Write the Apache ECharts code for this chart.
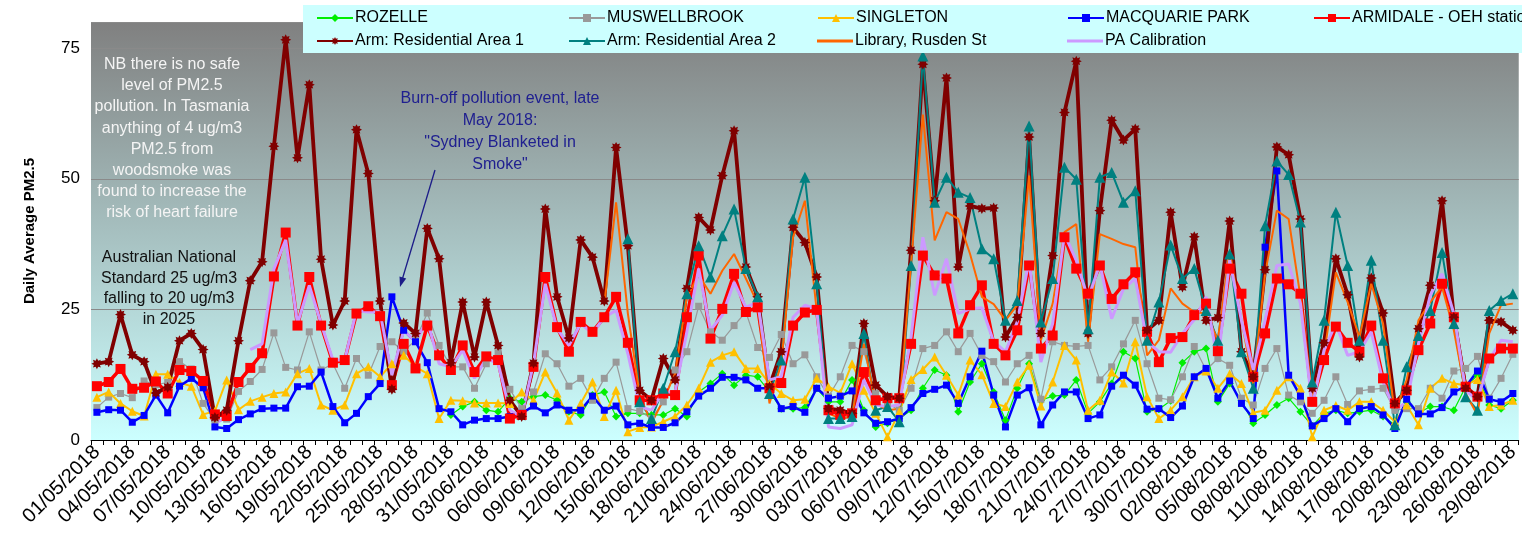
<!DOCTYPE html>
<html><head><meta charset="utf-8">
<script src="https://cdn.jsdelivr.net/npm/echarts@6/dist/echarts.min.js"></script>
<style>html,body{margin:0;padding:0;background:#fff}#c{width:1522px;height:533px}</style>
</head><body><div id="c"></div>
<script>
var categories = [
'01/05/2018','02/05/2018','03/05/2018','04/05/2018','05/05/2018','06/05/2018','07/05/2018','08/05/2018','09/05/2018','10/05/2018',
'11/05/2018','12/05/2018','13/05/2018','14/05/2018','15/05/2018','16/05/2018','17/05/2018','18/05/2018','19/05/2018','20/05/2018',
'21/05/2018','22/05/2018','23/05/2018','24/05/2018','25/05/2018','26/05/2018','27/05/2018','28/05/2018','29/05/2018','30/05/2018','31/05/2018',
'01/06/2018','02/06/2018','03/06/2018','04/06/2018','05/06/2018','06/06/2018','07/06/2018','08/06/2018','09/06/2018','10/06/2018',
'11/06/2018','12/06/2018','13/06/2018','14/06/2018','15/06/2018','16/06/2018','17/06/2018','18/06/2018','19/06/2018','20/06/2018',
'21/06/2018','22/06/2018','23/06/2018','24/06/2018','25/06/2018','26/06/2018','27/06/2018','28/06/2018','29/06/2018','30/06/2018',
'01/07/2018','02/07/2018','03/07/2018','04/07/2018','05/07/2018','06/07/2018','07/07/2018','08/07/2018','09/07/2018','10/07/2018',
'11/07/2018','12/07/2018','13/07/2018','14/07/2018','15/07/2018','16/07/2018','17/07/2018','18/07/2018','19/07/2018','20/07/2018',
'21/07/2018','22/07/2018','23/07/2018','24/07/2018','25/07/2018','26/07/2018','27/07/2018','28/07/2018','29/07/2018','30/07/2018','31/07/2018',
'01/08/2018','02/08/2018','03/08/2018','04/08/2018','05/08/2018','06/08/2018','07/08/2018','08/08/2018','09/08/2018','10/08/2018',
'11/08/2018','12/08/2018','13/08/2018','14/08/2018','15/08/2018','16/08/2018','17/08/2018','18/08/2018','19/08/2018','20/08/2018',
'21/08/2018','22/08/2018','23/08/2018','24/08/2018','25/08/2018','26/08/2018','27/08/2018','28/08/2018','29/08/2018'
];
var yTicks = [0, 25, 50, 75];
var N = null;
var rozelle = [N,N,N,N,N,N,N,N,N,N, N,N,N,N,N,N,N,N,N,N, N,N,N,N,N,N,N,N,N,N,
4.8, 6.4,7.3,5.7,5.4,8,7.3,8.3,8.6,7.6,5.4,4.8,8.6,9.2,4.5,5.1,
5.1,4.8,4.8,6,4.5,9.2,10.8,12.7,10.5,12.4,12.1,9.2,6,6,6.2,
9.9,7.3,7.3,11.5,5.7,2.5,3.2,4.1,5.7,9.9,13.4,12.4,5.4,11.1,14.6,
9.2,3.8,9.9,14.6,7.6,8.4,8.6,11.5,5.1,7.3,10.8,16.9,15.6,5.4,5.9,
7.5,14.8,16.9,17.5,7.3,10.8,7.6,3.2,4.8,6.7,8,5.4,2.7,5.1,5.7,
5.1,5.4,5.7,4.5,2.9,7.3,5.1,6.4,6.4,5.7,10.2,12.4,6.7,6,7.6];
var muswellbrook = [6.2,8.2,8.9,8.1,11.3,10.6,11,15,13.6,7,3.8,4,9.3,11.2,13.5,20.5,13.9,13.4,20.7,13.4,14.6,9.9,15.6,12.4,17.9,18.8,17,19.1,24.3,18.1,14,
14,9.9,14.6,16.7,9.7,6,9.2,16.5,14.6,10.3,11.8,7.6,11.8,14.9,6,
5.5,4.1,7.3,13.4,16.9,25.6,20.7,19.1,21.9,24.5,17.7,15.8,20.2,14.6,16.3,
12.1,8.3,12.1,18.1,16.9,8.9,7,5.7,9.9,17.5,18.1,20.7,16.9,20.4,16.2,
15,11.1,14.6,16.2,7.8,18.8,18.1,17.9,18.1,11.5,14,18.4,22.9,14.6,8,
7.7,12.1,17.9,13.4,15.6,14.3,8,6.7,13.7,17.5,8.6,7.3,5.1,7.6,12.1,
6.8,9.4,9.7,9.9,5.7,6,6,9.9,8,13.2,13.7,16,8,11.8,16.4];
var singleton = [8.2,9.2,7,5.5,4.6,12.6,12.6,11,10.3,4.9,5.5,11.5,5.8,7.4,8.2,8.9,9.2,12.7,13.7,6.7,5.7,6.7,12.7,14,12.1,14.6,16.2,14,12.7,4.1,7.6,
7.5,7.1,7.1,7.1,7,9.2,7.6,13,9,3.8,7,11.1,4.5,9.5,1.6,
2.4,2.5,3.5,4.5,6.7,9.9,14.9,16.2,16.9,13.7,13.7,10.8,8.9,7.6,7.8,
11.8,10.2,9,14.6,9.5,5.1,0.6,5.4,11.6,13.5,15.9,12.4,8.6,15.3,12.5,
7,6.4,11.1,14.3,6.5,11.1,18.1,15.3,5.7,7.6,13,10.9,18.8,8.3,4.1,
5.7,8.3,12.1,13.2,9.9,12.7,10.8,5.2,5.7,9.5,12.1,9.9,0.6,5.7,6.6,
5.7,7.3,7.3,5.7,3.5,6.7,2.9,9.9,11.8,10.8,10.5,11.6,6.4,6.7,7.6];
var macquariePark = [5.3,5.8,5.7,3.4,4.7,8.6,5.2,10.3,11.8,10,2.5,2.2,3.9,5,6,6.1,6.1,10.2,10.3,13,6.4,3.3,5.1,8.3,10.8,27.4,21,18.8,14.8,6,5.4,
2.9,3.8,4.1,4.1,4.5,5.1,6.5,5.2,6.7,5.7,5.7,8.4,5.7,6.5,2.9,
3.2,2.4,2.4,3.3,5.4,8.4,9.9,12,12,11.5,9.9,9.9,6,6.4,5.3,
9.9,8,8.4,9.4,5.2,3.2,3.5,4.1,6.2,8.9,9.7,10.5,7,12.1,17,
8.6,2.5,8.6,10,2.9,6.7,9.2,9.2,4.1,4.8,10.3,12.4,10.5,5.9,6,
4.3,6.5,12.1,13.7,8,11.3,7,4.1,36.9,51.5,12.4,8.4,2.7,4.1,6,
3.5,6,6.4,4.8,2.2,7.8,5,5,6.2,9.2,10.2,13.2,7.8,7.3,8.9];
var armidaleOEH = [10.3,11.1,13.6,9.8,10,11.2,8.9,13.4,13.2,11.3,4.9,4.6,11.1,13.8,16.6,31.3,39.7,21.9,31.2,21.9,14.8,15.3,24.2,25.6,23.7,10.5,18.4,13.7,21.9,16.2,13.4,
18.1,13,16,15.3,4.1,4.8,14,31.2,21.6,16.9,22.6,20.7,23.5,27.4,18.6,
7.6,7.6,8.9,8.6,23.5,35.3,19.4,25.1,31.8,24.5,25.4,9.9,10.9,21.9,24.4,
24.9,5.7,4.8,5.1,13,7.6,8,8,18.4,35.3,31.5,30.9,20.4,25.8,29.6,
18.4,16.2,21,33.4,17.5,20,38.8,32.8,28,33.4,27,29.8,32.1,20.7,14.9,
19.5,19.7,23.9,26.1,17,32.8,28,12.1,20.4,30.9,29.8,28,7.3,15.3,21.7,
18.6,16.9,21.9,11.8,7,9.5,17.2,22.3,29.9,23.5,10.2,8.3,15.6,17.5,17.5];
var armRes1 = [14.6,15,24,16.3,15,9,10.1,19,20.4,17.3,4.3,5.7,19,30.5,34.1,56.2,76.6,54,68,34.6,22,26.6,59.4,51,26.6,9.7,22.4,20.4,40.5,34.7,14.8,
26.4,15.9,26.4,18.1,7.6,4.5,14.7,44.2,27.4,19.5,38.3,35,26.6,56,37.2,
9.5,7.6,15.6,11.5,29,42.6,40.2,50.6,59.2,33.1,27.4,10.2,16.9,40.7,37.8,
31.2,6,5.7,5.1,22.3,10.5,8.3,8,36.3,71.9,45.8,69.3,33.1,44.8,44.3,
44.4,19.7,23.5,58,20.4,35.3,62.7,72.5,20.4,43.9,61.2,57.4,59.5,21,22.9,
43.6,29.3,38.9,22.9,23.4,41.9,16.9,12.1,32.6,56.1,54.6,42.3,9.9,18.6,34.7,
27.8,15.9,31,24.3,7,9.5,21.3,29.6,45.8,23.5,9.9,8.3,22.9,22.6,21];
var armRes2 = [N,N,N,N,N,N,N,N,N,N, N,N,N,N,N,N,N,N,N,N, N,N,N,N,N,N,N,N,N,N, N,N,N,N,N,N,N,N,N,N, N,N,N,N,N,
38.5,
7.3,4.1,9.9,16.9,28,37.2,31.2,39.1,44.2,32.8,27.4,8.9,15.3,42.3,50.3,
29.9,4.1,4.1,4.5,20.4,5.7,6.4,3.5,33.4,73.5,45.5,50.3,47.4,46.4,36.6,
34.7,22.9,26.7,60.1,22.6,30.9,52.2,49.9,21.3,50.3,51.2,45.5,47.7,19.1,26.4,
37.3,30.9,32.8,24.8,19.1,35.6,16.9,9.9,41,53.4,50.8,41.7,11.1,22.9,43.6,
33.4,19.1,34.4,19.1,2.9,14,20,24.8,35.9,22.3,8.3,5.7,24.8,26.7,28];
var libraryRusden = [N,N,N,N,N,N,N,N,N,N, N,N,N,N,N,N,N,N,N,N, N,N,N,N,N,N,N,N,N,N, N,N,N,N,N,N,N,N,N,N, N,N,N,
26,45.5,24.2,
8.6,3.2,7.6,12.7,27.4,31.5,28,32.4,35.6,30.9,26.1,7,14.6,38.8,45.8,
24.8,5.1,4.1,4.5,18.4,7,5.7,6,33.7,62.3,38.2,43.6,42.3,35.6,27.4,
26,22.9,25.8,50.6,19.1,26.1,39.8,41.3,18.8,39.4,38.5,37.5,36.9,16.2,19.1,
29,26.1,24.5,24.2,19.1,36.3,22.9,10.8,31.8,43.9,42.3,27.4,8.3,16.2,32.1,
26.4,19.7,29.9,22.3,5.1,11.5,22.9,26.4,29.3,21,8.9,4.8,20.4,25.8,26.1];
var paCalibration = [N,N,N,N,N,N,N,N,N,N,3.1,4.4,N,17.3,18.4,32.7,38.3,22.3,29.6,22.3,15.3,15.3,24.8,24.5,24.5,12.4,21,18.8,22.9,14.6,14,
17.2,11.8,15.6,14.6,5.7,4.5,14.6,29.9,21.3,18.1,22.3,20.4,23.5,24.8,16.5,
6.4,5.7,9.2,9.2,20.7,32.8,21,23.9,30.2,25.4,26.4,11.5,12.1,23.5,25.8,
25.1,2.5,2.2,2.9,11.5,6.7,6.4,6.7,19.7,38.8,27.7,34.7,24.2,25.1,25.3,
18.8,16.9,22.6,34.4,14.9,22.3,39.4,34.4,27,33.7,23.2,28.9,30.9,18.8,16.9,
16.8,20.4,23,27.4,14.9,34.4,22.9,13.4,22.9,33.4,33.7,26.1,6.4,17.2,22.3,
16.2,16.9,20.7,11.1,5.7,7.3,18.4,27.7,31.8,24.2,9.5,7.6,15.3,19.1,18.8];

var FONT = "'Liberation Sans', Arial, sans-serif";
var STAR = 'path://M10,0 L12.3,4.46 L17.07,2.93 L15.54,7.7 L20,10 L15.54,12.3 L17.07,17.07 L12.3,15.54 L10,20 L7.7,15.54 L2.93,17.07 L4.46,12.3 L0,10 L4.46,7.7 L2.93,2.93 L7.7,4.46 Z';

function mk(name, data, color, width, symbol, size) {
  return {
    name: name, type: 'line', data: data, connectNulls: false,
    symbol: symbol, symbolSize: size, showSymbol: symbol !== 'none', showAllSymbol: true,
    lineStyle: {color: color, width: width},
    itemStyle: {color: color},
    emphasis: {disabled: true}
  };
}

var series = [
  mk('ROZELLE', rozelle, '#00ee00', 1.2, 'diamond', 8),
  mk('MUSWELLBROOK', muswellbrook, '#999999', 1.2, 'rect', 7),
  mk('SINGLETON', singleton, '#ffc000', 2, 'triangle', 9),
  mk('MACQUARIE PARK', macquariePark, '#0000ff', 2.5, 'rect', 7),
  mk('ARMIDALE - OEH station', armidaleOEH, '#ff0000', 3.5, 'rect', 10),
  mk('Arm: Residential Area 1', armRes1, '#800000', 3.8, STAR, 11),
  mk('Arm: Residential Area 2', armRes2, '#008080', 2, 'triangle', 11),
  mk('Library, Rusden St', libraryRusden, '#ff6600', 2, 'none', 4),
  mk('PA Calibration', paCalibration, '#cc99ff', 3, 'none', 4)
];

function lg(name, left, top, plain) {
  return {data: [plain ? {name: name, icon: 'rect'} : name], left: left, top: top, padding: 0,
    itemWidth: 36, itemHeight: plain ? 3 : 10,
    itemGap: 0, selectedMode: false, z: 200,
    textStyle: {fontFamily: FONT, fontSize: 16, color: '#000', padding: [0,0,0,-3]}};
}

var option = {
  animation: false,
  textStyle: {fontFamily: FONT},
  grid: {left: 91, right: -6, top: 22, bottom: 93, show: true, borderWidth: 0,
    backgroundColor: new echarts.graphic.LinearGradient(0, 0, 0, 1, [
      {offset: 0, color: '#808080'}, {offset: 1, color: '#ccffff'}])},
  legend: [
    lg('ROZELLE', 316, 10), lg('MUSWELLBROOK', 568, 10), lg('SINGLETON', 817, 10),
    lg('MACQUARIE PARK', 1067, 10), lg('ARMIDALE - OEH station', 1313, 10),
    lg('Arm: Residential Area 1', 316, 33), lg('Arm: Residential Area 2', 568, 33),
    lg('Library, Rusden St', 817, 33, true), lg('PA Calibration', 1067, 33, true)
  ],
  xAxis: {
    type: 'category', data: categories, boundaryGap: true,
    axisLine: {lineStyle: {color: '#000', width: 1}},
    axisTick: {show: true, interval: 0, length: 5, lineStyle: {color: '#000'}},
    axisLabel: {interval: 2, rotate: 45, fontSize: 20, color: '#000', fontFamily: FONT, margin: 9},
    splitLine: {show: false}
  },
  yAxis: {
    type: 'value', min: yTicks[0], max: 80, interval: yTicks[1] - yTicks[0],
    name: 'Daily Average PM2.5', nameLocation: 'middle', nameGap: 54,
    nameTextStyle: {fontFamily: FONT, fontSize: 15, fontWeight: 'bold', color: '#000'},
    axisLine: {show: false}, axisTick: {show: false},
    axisLabel: {fontSize: 17, color: '#000', fontFamily: FONT, margin: 11, showMaxLabel: false},
    splitLine: {lineStyle: {color: '#8a8a8a', width: 1}}
  },
  graphic: [
    {type: 'rect', z: 100, shape: {x: 303, y: 5, width: 1230, height: 48}, style: {fill: '#ccffff'}},
    {type: 'text', z: 100, style: {x: 172, y: 54, text: 'NB there is no safe\nlevel of PM2.5\npollution. In Tasmania\nanything of 4 ug/m3\nPM2.5 from\nwoodsmoke was\nfound to increase the\nrisk of heart failure',
      font: '16px ' + FONT, fill: '#f4f4f4', textAlign: 'center', textVerticalAlign: 'top', lineHeight: 21.2}},
    {type: 'text', z: 100, style: {x: 169, y: 247, text: 'Australian National\nStandard 25 ug/m3\nfalling to 20 ug/m3\nin 2025',
      font: '16px ' + FONT, fill: '#111111', textAlign: 'center', textVerticalAlign: 'top', lineHeight: 20.8}},
    {type: 'text', z: 100, style: {x: 500, y: 87, text: 'Burn-off pollution event, late\nMay 2018:\n"Sydney Blanketed in\nSmoke"',
      font: '16px ' + FONT, fill: '#202090', textAlign: 'center', textVerticalAlign: 'top', lineHeight: 22.3}},
    {type: 'line', z: 100, shape: {x1: 435, y1: 170, x2: 402.5, y2: 278.5}, style: {stroke: '#1c1c88', lineWidth: 1.3}},
    {type: 'polygon', z: 100, shape: {points: [[400, 287], [406.2, 278.4], [399.5, 276.4]]}, style: {fill: '#1c1c88'}}
  ],
  series: series
};
var chart = echarts.init(document.getElementById('c'), null, {renderer: 'canvas'});
chart.setOption(option);
</script></body></html>
